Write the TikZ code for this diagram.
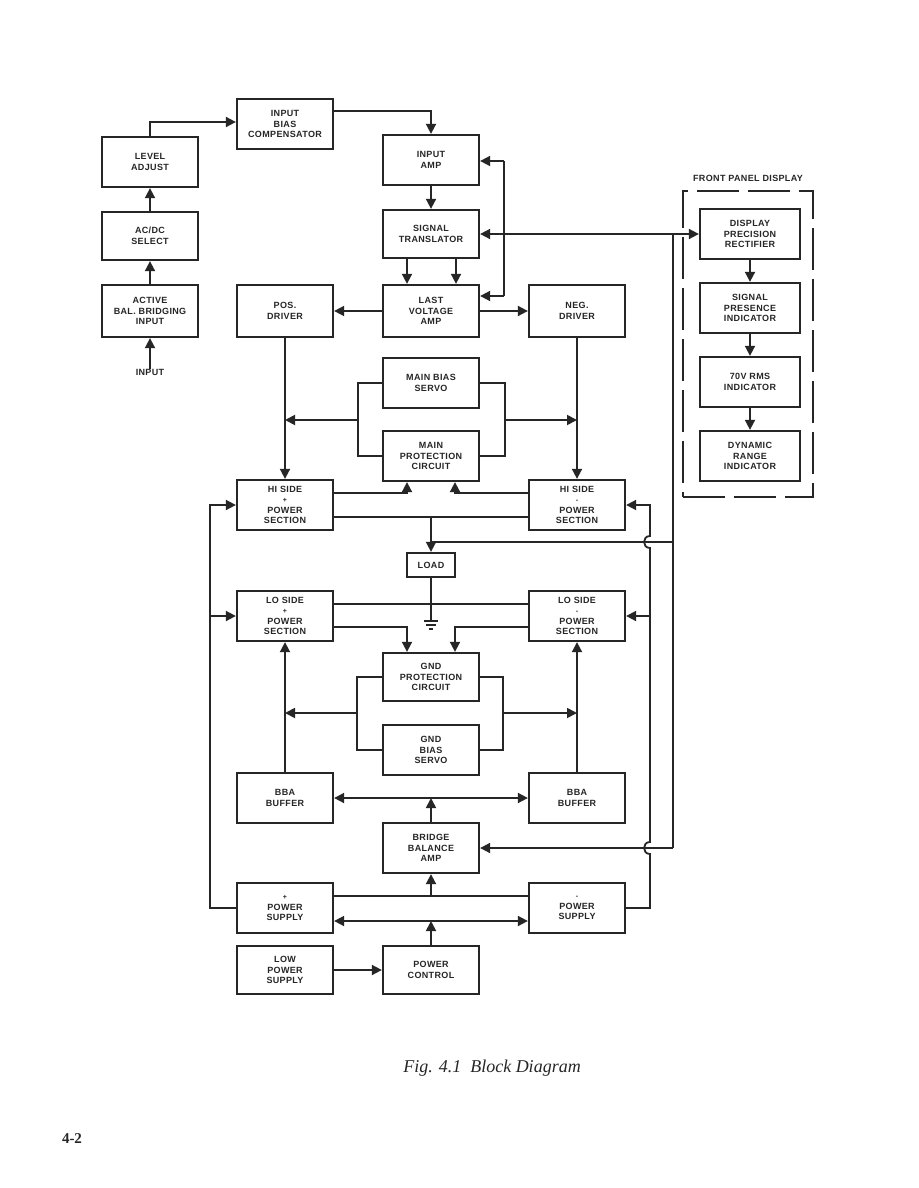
\documentclass[tikz,border=0pt]{standalone}
\usepackage{fontspec}
\setmainfont{Liberation Sans}
\newfontfamily\lblfont{Liberation Sans}[LetterSpace=4]
\newfontfamily\capfont{Liberation Serif}
\usetikzlibrary{arrows.meta}
\definecolor{ink}{HTML}{262626}
\tikzset{
  lblstyle/.style={text=ink, align=center, inner sep=0pt, font=\lblfont\bfseries\fontsize{9}{10.5}\selectfont},
  box/.style={lblstyle, draw=ink, line width=2.3pt, minimum width=96pt, minimum height=50pt},
  wire/.style={draw=ink, line width=1.8pt},
  arr/.style={wire, -{Triangle[length=10pt,width=10pt]}},
  arrtwo/.style={wire, {Triangle[length=10pt,width=10pt]}-{Triangle[length=10pt,width=10pt]}},
  frame/.style={draw=ink, line width=1.8pt, dash pattern=on 42pt off 9pt, minimum width=130pt, minimum height=306pt, inner sep=0pt}
}
\newcommand{\sm}[1]{{\fontsize{7}{10.5}\selectfont #1}}
\begin{document}
\begin{tikzpicture}[x=1pt,y=-1pt]
\fill[white] (0,0) rectangle (918,1188);
\useasboundingbox (0,0) rectangle (918,1188);

% left input chain
\node[box] (ibc) at (285,124) {INPUT\\BIAS\\COMPENSATOR};
\node[box] (lvl) at (150,162) {LEVEL\\ADJUST};
\node[box, minimum height=48pt] (acdc) at (150,236) {AC/DC\\SELECT};
\node[box, minimum height=52pt] (act) at (150,311) {ACTIVE\\BAL. BRIDGING\\INPUT};
\node[lblstyle] (inp) at (150,372) {INPUT};

% main column
\node[box] (inamp) at (431,160) {INPUT\\AMP};
\node[box, minimum height=48pt] (st) at (431,234) {SIGNAL\\TRANSLATOR};
\node[box, minimum height=52pt] (lva) at (431,311) {LAST\\VOLTAGE\\AMP};
\node[box, minimum height=52pt] (pos) at (285,311) {POS.\\DRIVER};
\node[box, minimum height=52pt] (neg) at (577,311) {NEG.\\DRIVER};
\node[box] (mbs) at (431,383) {MAIN BIAS\\SERVO};
\node[box] (mpc) at (431,456) {MAIN\\PROTECTION\\CIRCUIT};
\node[box] (hip) at (285,505) {HI SIDE\\\sm{+}\\POWER\\SECTION};
\node[box] (hin) at (577,505) {HI SIDE\\\sm{-}\\POWER\\SECTION};
\node[box, minimum width=48pt, minimum height=24pt] (load) at (431,565) {LOAD};
\node[box] (lop) at (285,616) {LO SIDE\\\sm{+}\\POWER\\SECTION};
\node[box] (lon) at (577,616) {LO SIDE\\\sm{-}\\POWER\\SECTION};
\node[box, minimum height=48pt] (gpc) at (431,677) {GND\\PROTECTION\\CIRCUIT};
\node[box] (gbs) at (431,750) {GND\\BIAS\\SERVO};
\node[box] (bbal) at (285,798) {BBA\\BUFFER};
\node[box] (bbar) at (577,798) {BBA\\BUFFER};
\node[box] (bba) at (431,848) {BRIDGE\\BALANCE\\AMP};
\node[box] (pps) at (285,908) {\sm{+}\\POWER\\SUPPLY};
\node[box] (nps) at (577,908) {\sm{-}\\POWER\\SUPPLY};
\node[box, minimum height=48pt] (lps) at (285,970) {LOW\\POWER\\SUPPLY};
\node[box, minimum height=48pt] (pc) at (431,970) {POWER\\CONTROL};

% front panel display
\node[box, minimum width=100pt] (dpr) at (750,234) {DISPLAY\\PRECISION\\RECTIFIER};
\node[box, minimum width=100pt] (spi) at (750,308) {SIGNAL\\PRESENCE\\INDICATOR};
\node[box, minimum width=100pt] (rms) at (750,382) {70V RMS\\INDICATOR};
\node[box, minimum width=100pt] (dri) at (750,456) {DYNAMIC\\RANGE\\INDICATOR};
\node[frame] (fpd) at (748,344) {};
\node[lblstyle] (fpt) at (748,178) {FRONT PANEL DISPLAY};

% coordinates for bends
\coordinate (lvltop) at (150,122);
\coordinate (fbtop) at (504,161);
\coordinate (fbbot) at (504,296);
\coordinate (tap) at (673,234);
\coordinate (bbtap) at (673,848);
\coordinate (mbl) at (358,420);
\coordinate (mbr) at (505,420);
\coordinate (gbl) at (357,713);
\coordinate (gbr) at (503,713);
\coordinate (hij) at (431,517);
\coordinate (outj) at (431,542);
\coordinate (outr) at (673,542);
\coordinate (gnd) at (431,621);
\coordinate (bbj) at (431,896);
\coordinate (pwj) at (431,921);
\coordinate (lt) at (210,505);
\coordinate (rt) at (650,505);
\coordinate (r1) at (650,908);
\coordinate (r2) at (650,854);
\coordinate (r3) at (650,842);
\coordinate (r4) at (650,548);
\coordinate (r5) at (650,536);

% input chain wires
\draw[arr] (inp.north) -- (act.south);
\draw[arr] (act.north) -- (acdc.south);
\draw[arr] (acdc.north) -- (lvl.south);
\draw[arr] (lvl.north) -- (lvltop) -- (lvltop -| ibc.west);
\draw[arr] ([yshift=13pt]ibc.east) -| (inamp.north);
\draw[arr] (inamp.south) -- (st.north);
\draw[arr] ([xshift=-24pt]st.south) -- ([xshift=-24pt]lva.north);
\draw[arr] ([xshift=25pt]st.south) -- ([xshift=25pt]lva.north);

% feedback / sense
\draw[wire] (fbtop) -- (fbbot);
\draw[arr] (fbtop) -- (fbtop -| inamp.east);
\draw[arr] (fbbot) -- (fbbot -| lva.east);
\draw[arr] (tap) -- (st.east);
\draw[arr] (tap) -- (dpr.west);
\draw[wire] (tap) -- (bbtap);
\draw[arr] (bbtap) -- (bba.east);

% drivers
\draw[arr] (lva.west) -- (pos.east);
\draw[arr] (lva.east) -- (neg.west);
\draw[arr] (pos.south) -- (hip.north);
\draw[arr] (neg.south) -- (hin.north);

% main bias / protection brackets
\draw[wire] (mbs.west) -| (mbl) |- (mpc.west);
\draw[wire] (mbs.east) -| (mbr) |- (mpc.east);
\draw[arr] (mbl) -- (mbl -| pos.south);
\draw[arr] (mbr) -- (mbr -| neg.south);

% hi side outputs
\draw[arr] ([yshift=12pt]hip.east) -| ([xshift=-24pt]mpc.south);
\draw[arr] ([yshift=12pt]hin.west) -| ([xshift=24pt]mpc.south);
\draw[wire] ([yshift=-12pt]hip.east) -- ([yshift=-12pt]hin.west);
\draw[arr] (hij) -- (load.north);
\draw[wire] (outj) -- (outr);
\draw[wire] (outr) -- (bbtap);

% load to ground
\draw[wire] (load.south) -- (gnd);
\draw[wire] ([xshift=-7pt]gnd) -- ([xshift=7pt]gnd);
\draw[wire] ([xshift=-5pt,yshift=-4pt]gnd) -- ([xshift=5pt,yshift=-4pt]gnd);
\draw[wire] ([xshift=-2pt,yshift=-8pt]gnd) -- ([xshift=2pt,yshift=-8pt]gnd);

% lo side
\draw[wire] ([yshift=12pt]lop.east) -- ([yshift=12pt]lon.west);
\draw[arr] ([yshift=-11pt]lop.east) -| ([xshift=-24pt]gpc.north);
\draw[arr] ([yshift=-11pt]lon.west) -| ([xshift=24pt]gpc.north);

% gnd bias / protection brackets
\draw[wire] (gpc.west) -| (gbl) |- (gbs.west);
\draw[wire] (gpc.east) -| (gbr) |- (gbs.east);
\draw[arr] (gbl) -- (gbl -| lop.south);
\draw[arr] (gbr) -- (gbr -| lon.south);

% bba buffers
\draw[arr] (bbal.north) -- (bbal.north |- lop.south);
\draw[arr] (bbar.north) -- (bbar.north |- lon.south);
\draw[arrtwo] (bbal.east) -- (bbar.west);
\draw[arr] (bba.north) -- (bba.north |- bbal.east);

% power supplies
\draw[wire] ([yshift=12pt]pps.east) -- ([yshift=12pt]nps.west);
\draw[arr] (bbj) -- (bba.south);
\draw[arrtwo] ([yshift=-13pt]pps.east) -- ([yshift=-13pt]nps.west);
\draw[arr] (pc.north) -- (pwj);
\draw[arr] (lps.east) -- (pc.west);

% rails
\draw[arr] (pps.west) -| (lt) -- (hip.west);
\draw[arr] (lop.west -| lt) -- (lop.west);
\draw[arr] (nps.east) -- (r1) -- (r2) .. controls (642,854) and (642,842) .. (r3) -- (r4) .. controls (642,548) and (642,536) .. (r5) -- (rt) -- (hin.east);
\draw[arr] (lon.east -| rt) -- (lon.east);

% display chain
\draw[arr] (dpr.south) -- (spi.north);
\draw[arr] (spi.south) -- (rms.north);
\draw[arr] (rms.south) -- (dri.north);

% caption and page number
\node[text=ink, font=\capfont\itshape\fontsize{18}{21}\selectfont] (cap) at (492,1068) {Fig. 4.1\ \ Block Diagram};
\node[text=ink, font=\capfont\bfseries\fontsize{15}{18}\selectfont] (pg) at (72,1139) {4-2};
\end{tikzpicture}
\end{document}
